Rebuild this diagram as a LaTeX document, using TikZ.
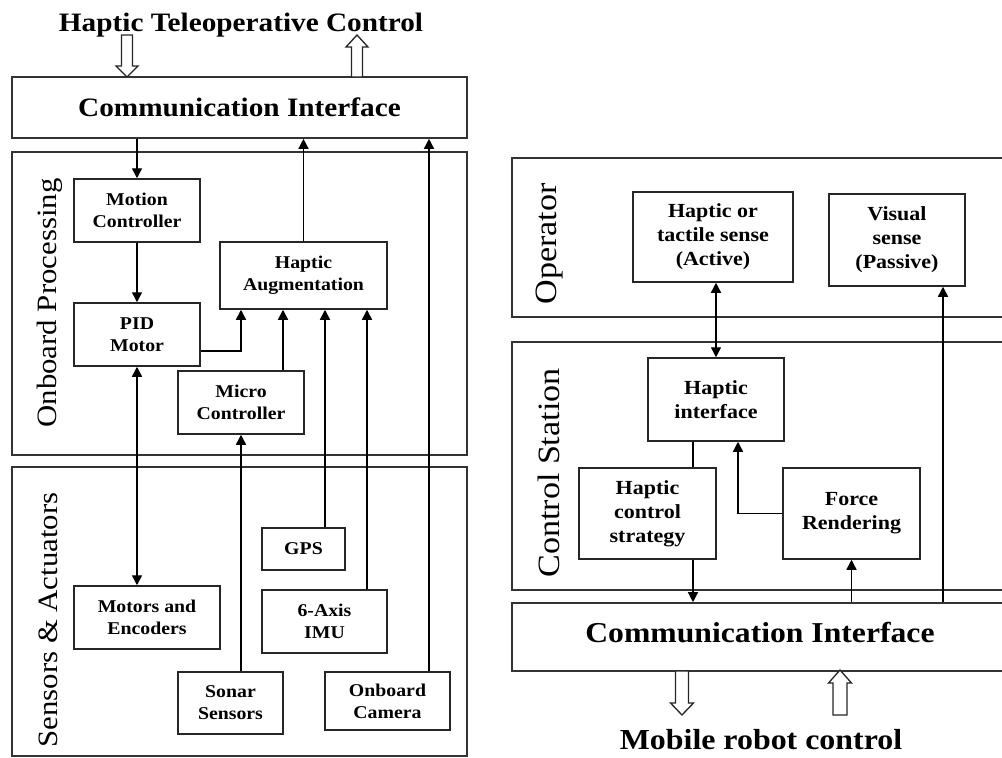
\documentclass[tikz,border=0pt]{standalone}
\usepackage{fontspec}
\setmainfont{Liberation Serif}[FakeStretch=1.1]
\usetikzlibrary{arrows.meta,calc}
\begin{document}
\begin{tikzpicture}[x=1pt,y=-1pt,
  panel/.style={draw=black!80, line width=1.6pt, inner sep=0pt},
  box/.style={draw=black!85, line width=1.5pt, align=center, inner sep=0pt,
    font=\bfseries\fontsize{18}{22}\selectfont},
  rbox/.style={box, font=\bfseries\fontsize{20}{24}\selectfont},
  vlabel/.style={rotate=90, inner sep=0pt, font=\fontsize{28}{30}\selectfont},
  rvlabel/.style={vlabel, font=\fontsize{31}{33}\selectfont},
  arr/.style={line width=1.4pt, -{Triangle[length=10pt,width=10pt]}},
  darr/.style={line width=1.4pt, {Triangle[length=10pt,width=10pt]}-{Triangle[length=10pt,width=10pt]}},
  conn/.style={line width=1.4pt},
  hollow/.style={draw=black!85, line width=1.3pt, fill=white, line join=miter}
]
\useasboundingbox (0,0) rectangle (1002,758);
\clip (0,0) rectangle (1002,758);

% ---------------- left part ----------------
\node[font=\bfseries\fontsize{26.6}{30}\selectfont, anchor=base] (title) at (241,31) {Haptic Teleoperative Control};

\node[panel, minimum width=455pt, minimum height=61pt,
      font=\bfseries\fontsize{26.6}{30}\selectfont] (ci1) at (239.5,107.5) {Communication Interface};
\node[panel, minimum width=455pt, minimum height=303pt] (op) at (239.5,303.5) {};
\node[panel, minimum width=455pt, minimum height=289pt] (sa) at (239.5,611.5) {};

\node[vlabel] (opl) at (50,303) {Onboard Processing};
\node[vlabel] (sal) at (48,620) {Sensors \& Actuators};

\node[box, minimum width=126pt, minimum height=63pt] (mc) at (137,210.5) {Motion\\Controller};
\node[box, minimum width=126pt, minimum height=63pt] (pid) at (137,334.5) {PID\\Motor};
\node[box, minimum width=167pt, minimum height=67pt] (ha) at (303.5,275.5) {Haptic\\Augmentation};
\node[box, minimum width=126pt, minimum height=63pt] (micro) at (241,402.5) {Micro\\Controller};
\node[box, minimum width=83pt, minimum height=42pt] (gps) at (303.5,549) {GPS};
\node[box, minimum width=125pt, minimum height=63pt] (imu) at (324.5,621.5) {6-Axis\\IMU};
\node[box, minimum width=146pt, minimum height=63pt] (me) at (147,617.5) {Motors and\\Encoders};
\node[box, minimum width=105pt, minimum height=62pt] (sonar) at (230.5,703) {Sonar\\Sensors};
\node[box, minimum width=125pt, minimum height=58pt] (cam) at (387.5,701) {Onboard\\Camera};

% hollow arrows (top)
\draw[hollow] (121.5,35) -- (132.5,35) -- (132.5,66) -- (138,66) -- (127,77) -- (116,66) -- (121.5,66) -- cycle;
\draw[hollow] (357,35) -- (368,47) -- (362.5,47) -- (362.5,77) -- (351.5,77) -- (351.5,47) -- (346,47) -- cycle;

% connectors left
\draw[arr] (ci1.south -| mc.north) -- (mc.north);
\draw[arr] (mc.south) -- (pid.north);
\draw[darr] (pid.south) -- (pid.south |- me.north);
\coordinate (pidout) at ([yshift=-16.5pt]pid.east);
\coordinate (haA) at ([xshift=-62.5pt]ha.south);
\draw[arr] (pidout) -| (haA);
\coordinate (microT) at ([xshift=42pt]micro.north);
\draw[arr] (microT) -- (microT |- ha.south);
\coordinate (gpsT) at ([xshift=21.5pt]gps.north);
\draw[arr] (gpsT) -- (gpsT |- ha.south);
\coordinate (imuT) at ([xshift=42.5pt]imu.north);
\draw[arr] (imuT) -- (imuT |- ha.south);
\draw[arr] (ha.north) -- (ha.north |- ci1.south);
\coordinate (camT) at ([xshift=41.5pt]cam.north);
\draw[arr] (camT) -- (camT |- ci1.south);
\draw[arr] (micro.south |- sonar.north) -- (micro.south);

% ---------------- right part ----------------
\node[panel, minimum width=498pt, minimum height=159pt] (opr) at (761,237.5) {};
\node[panel, minimum width=498pt, minimum height=248pt] (cs) at (761,466) {};
\node[panel, minimum width=498pt, minimum height=68pt] (ci2) at (761,637) {};
\node[font=\bfseries\fontsize{28.8}{32}\selectfont, anchor=base] (ci2t) at (760,642) {Communication Interface};

\node[rvlabel] (oplab) at (550,244) {Operator};
\node[rvlabel] (cslab) at (549,473) {Control Station};

\node[rbox, minimum width=160pt, minimum height=90pt] (hs) at (713,237) {Haptic or\\tactile sense\\(Active)};
\node[rbox, minimum width=136pt, minimum height=92pt] (vs) at (897,240) {Visual\\sense\\(Passive)};
\node[rbox, minimum width=136pt, minimum height=83pt] (hi) at (716,399.5) {Haptic\\interface};
\node[rbox, minimum width=137pt, minimum height=91pt] (hcs) at (647.5,513.5) {Haptic\\control\\strategy};
\node[rbox, minimum width=137pt, minimum height=91pt] (fr) at (851.5,513.5) {Force\\Rendering};

\node[font=\bfseries\fontsize{29}{32}\selectfont, anchor=base] (mrc) at (761,749) {Mobile robot control};

% hollow arrows (bottom)
\draw[hollow] (675.5,671) -- (688.5,671) -- (688.5,703) -- (693.5,703) -- (682,715) -- (670.5,703) -- (675.5,703) -- cycle;
\draw[hollow] (840,670) -- (851.5,683) -- (847,683) -- (847,715) -- (833,715) -- (833,683) -- (828.5,683) -- cycle;

% connectors right
\draw[darr] (hi.north |- hs.south) -- (hi.north);
\coordinate (hiB) at ([xshift=-23pt]hi.south);
\draw[conn] (hiB) -- (hiB |- hcs.north);
\coordinate (hiR) at ([xshift=22pt]hi.south);
\draw[arr] (fr.west) -| (hiR);
\coordinate (hcsB) at ([xshift=45.5pt]hcs.south);
\draw[arr] (hcsB) -- (hcsB |- ci2.north);
\draw[arr] (fr.south |- ci2.north) -- (fr.south);
\coordinate (vsB) at ([xshift=46pt]vs.south);
\draw[arr] (vsB |- ci2.north) -- (vsB);
\end{tikzpicture}
\end{document}
